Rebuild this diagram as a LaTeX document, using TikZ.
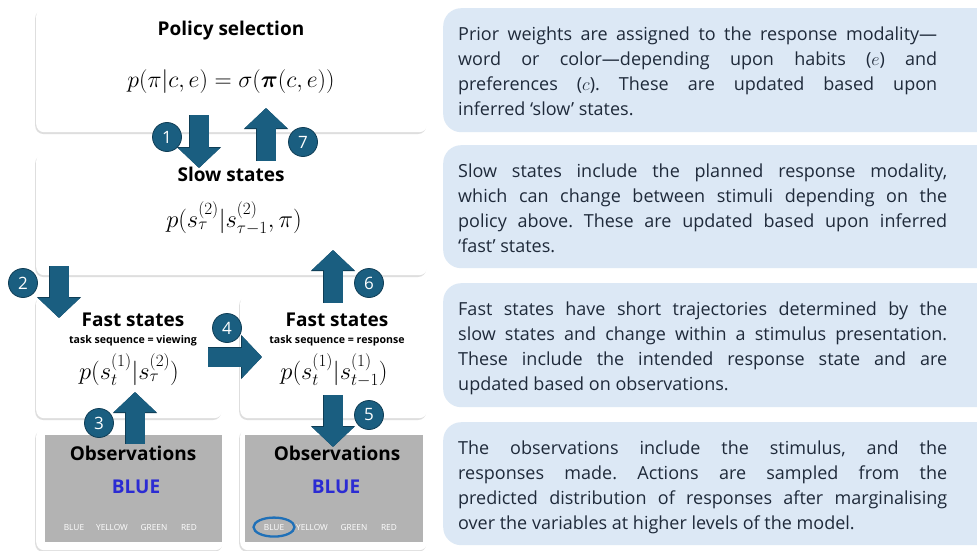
\RequirePackage{fix-cm}
\documentclass[tikz,border=0pt]{standalone}
\usepackage{amsmath,bm}
\usepackage[no-math]{fontspec}
\newfontfamily\osans{Open Sans}
\usetikzlibrary{arrows.meta,shadows}
\definecolor{arrc}{HTML}{1A5E80}
\definecolor{arrd}{HTML}{0F3D55}
\definecolor{panelc}{HTML}{DCE8F5}
\definecolor{ptextc}{HTML}{1F2A3A}
\definecolor{grayc}{HTML}{B3B3B3}
\definecolor{bluew}{HTML}{2B2BD3}
\definecolor{ringc}{HTML}{1F70B8}
\tikzset{
  wbox/.style={fill=white, rounded corners=8pt, inner sep=0pt, anchor=north west,
    drop shadow={shadow xshift=-1pt, shadow yshift=-1.8pt, opacity=0.28, fill=black!45}},
  graybox/.style={fill=grayc, inner sep=0pt, anchor=north west},
  panel/.style={fill=panelc, rounded corners=18pt, inner sep=0pt, anchor=north west},
  ptext/.style={inner sep=0pt, anchor=north west, text=ptextc, align=justify, text width=495pt,
    font=\osans\fontsize{18}{25}\selectfont\frenchspacing},
  htitle/.style={inner sep=0pt, anchor=base, font=\osans\bfseries\fontsize{19}{22}\selectfont},
  subt/.style={inner sep=0pt, anchor=base, font=\osans\bfseries\fontsize{10.6}{12}\selectfont},
  mathf/.style={inner sep=0pt, anchor=base, font=\fontsize{24.5}{28}\selectfont},
  bigword/.style={inner sep=0pt, anchor=base, text=bluew, font=\osans\bfseries\fontsize{19}{22}\selectfont},
  smallword/.style={inner sep=0pt, anchor=base, text=white, font=\osans\fontsize{8.3}{10}\selectfont},
  blockarrow/.style={draw=arrc, line width=19pt, -{Triangle[width=41pt,length=20pt]},
    preaction={draw=arrd, line width=20.4pt, -{Triangle[width=43pt,length=21pt]}}},
  badge/.style={circle, fill=arrc, draw=arrd, line width=0.8pt, minimum size=29pt, inner sep=0pt,
    text=white, font=\osans\fontsize{17}{18}\selectfont},
}
\begin{document}
\begin{tikzpicture}[x=1pt,y=-1pt]
\useasboundingbox (0,0) rectangle (977,551);
\fill[white] (0,0) rectangle (977,551);

% left boxes
\node[wbox, minimum width=391pt, minimum height=124pt] (pol) at (36,8) {};
\node[wbox, minimum width=391pt, minimum height=122pt] (slow) at (36,153) {};
\node[wbox, minimum width=186pt, minimum height=123pt] (fastL) at (36,295) {};
\node[wbox, minimum width=187pt, minimum height=123pt] (fastR) at (240,295) {};
\node[wbox, minimum width=187pt, minimum height=122pt] (obsL) at (36,428) {};
\node[wbox, minimum width=187pt, minimum height=122pt] (obsR) at (240,428) {};
\node[graybox, minimum width=177pt, minimum height=107pt] (grayL) at (45,435) {};
\node[graybox, minimum width=178pt, minimum height=107pt] (grayR) at (245,435) {};

% texts in left boxes
\node[htitle] (polT) at (231,36) {Policy selection};
\node[mathf, font=\fontsize{23.8}{28}\selectfont] (polM) at (231,88) {$p(\pi|c,e)=\sigma(\bm{\pi}(c,e))$};
\node[htitle] (slowT) at (231,181) {Slow states};
\node[mathf] (slowM) at (234,227) {$p(s_\tau^{(2)}|s_{\tau-1}^{(2)},\pi)$};
\node[htitle] (fastLT) at (133,326) {Fast states};
\node[subt] (fastLS) at (133,343) {task sequence = viewing};
\node[mathf] (fastLM) at (129,379) {$p(s_t^{(1)}|s_\tau^{(2)})$};
\node[htitle] (fastRT) at (337,326) {Fast states};
\node[subt] (fastRS) at (337,343) {task sequence = response};
\node[mathf] (fastRM) at (334,379) {$p(s_t^{(1)}|s_{t-1}^{(1)})$};
\node[htitle] (obsLT) at (133,460) {Observations};
\node[bigword] (obsLB) at (136,493) {BLUE};
\node[smallword] (wL1) at (74,530) {BLUE};
\node[smallword] (wL2) at (112,530) {YELLOW};
\node[smallword] (wL3) at (154,530) {GREEN};
\node[smallword] (wL4) at (189,530) {RED};
\node[htitle] (obsRT) at (337,460) {Observations};
\node[bigword] (obsRB) at (336,493) {BLUE};
\node[smallword] (wR1) at (274,530) {BLUE};
\node[smallword] (wR2) at (312,530) {YELLOW};
\node[smallword] (wR3) at (354,530) {GREEN};
\node[smallword] (wR4) at (389,530) {RED};
\draw[ringc, line width=2.3pt] (wR1) ellipse [x radius=20.5pt, y radius=9.5pt];

% arrows
\coordinate (a1s) at (199,115); \coordinate (a1e) at (199,168);
\coordinate (a7s) at (266,161); \coordinate (a7e) at (266,108);
\coordinate (a2s) at (59,266);  \coordinate (a2e) at (59,318);
\coordinate (a6s) at (333,303); \coordinate (a6e) at (333,250);
\coordinate (a4s) at (208,357); \coordinate (a4e) at (262,357);
\coordinate (a3s) at (135,444); \coordinate (a3e) at (135,392);
\coordinate (a5s) at (333,395); \coordinate (a5e) at (333,447);
\draw[blockarrow] (a1s) -- (a1e);
\draw[blockarrow] (a7s) -- (a7e);
\draw[blockarrow] (a2s) -- (a2e);
\draw[blockarrow] (a6s) -- (a6e);
\draw[blockarrow] (a4s) -- (a4e);
\draw[blockarrow] (a3s) -- (a3e);
\draw[blockarrow] (a5s) -- (a5e);

% badges
\node[badge] (b1) at (167,137) {1};
\node[badge] (b7) at (303,142) {7};
\node[badge] (b2) at (23,283) {2};
\node[badge] (b6) at (369,283) {6};
\node[badge] (b4) at (227,328) {4};
\node[badge] (b3) at (99,423) {3};
\node[badge] (b5) at (369,415) {5};

% right panels
\node[panel, minimum width=560pt, minimum height=124pt] (p1) at (443,8) {};
\node[panel, minimum width=560pt, minimum height=123pt] (p2) at (443,145) {};
\node[panel, minimum width=560pt, minimum height=124pt] (p3) at (443,283) {};
\node[panel, minimum width=560pt, minimum height=123pt] (p4) at (443,422) {};

\node[ptext] (t1) at (458,22.5) {%
\makebox[479pt][s]{\strut Prior weights are assigned to the response modality—}\\
\makebox[479pt][s]{\strut word or color—depending upon habits ($e$) and}\\
\makebox[479pt][s]{\strut preferences ($c$). These are updated based upon}\\
\strut inferred ‘slow’ states.};
\node[ptext] (t2) at (458,159.5) {%
\makebox[489pt][s]{\strut Slow states include the planned response modality,}\\
\makebox[489pt][s]{\strut which can change between stimuli depending on the}\\
\makebox[489pt][s]{\strut policy above. These are updated based upon inferred}\\
\strut ‘fast’ states.};
\node[ptext] (t3) at (458,297.5) {%
\makebox[489pt][s]{\strut Fast states have short trajectories determined by the}\\
\makebox[489pt][s]{\strut slow states and change within a stimulus presentation.}\\
\makebox[489pt][s]{\strut These include the intended response state and are}\\
\strut updated based on observations.};
\node[ptext] (t4) at (458,436.5) {%
\makebox[489pt][s]{\strut The observations include the stimulus, and the}\\
\makebox[489pt][s]{\strut responses made. Actions are sampled from the}\\
\makebox[489pt][s]{\strut predicted distribution of responses after marginalising}\\
\strut over the variables at higher levels of the model.};
\end{tikzpicture}
\end{document}
